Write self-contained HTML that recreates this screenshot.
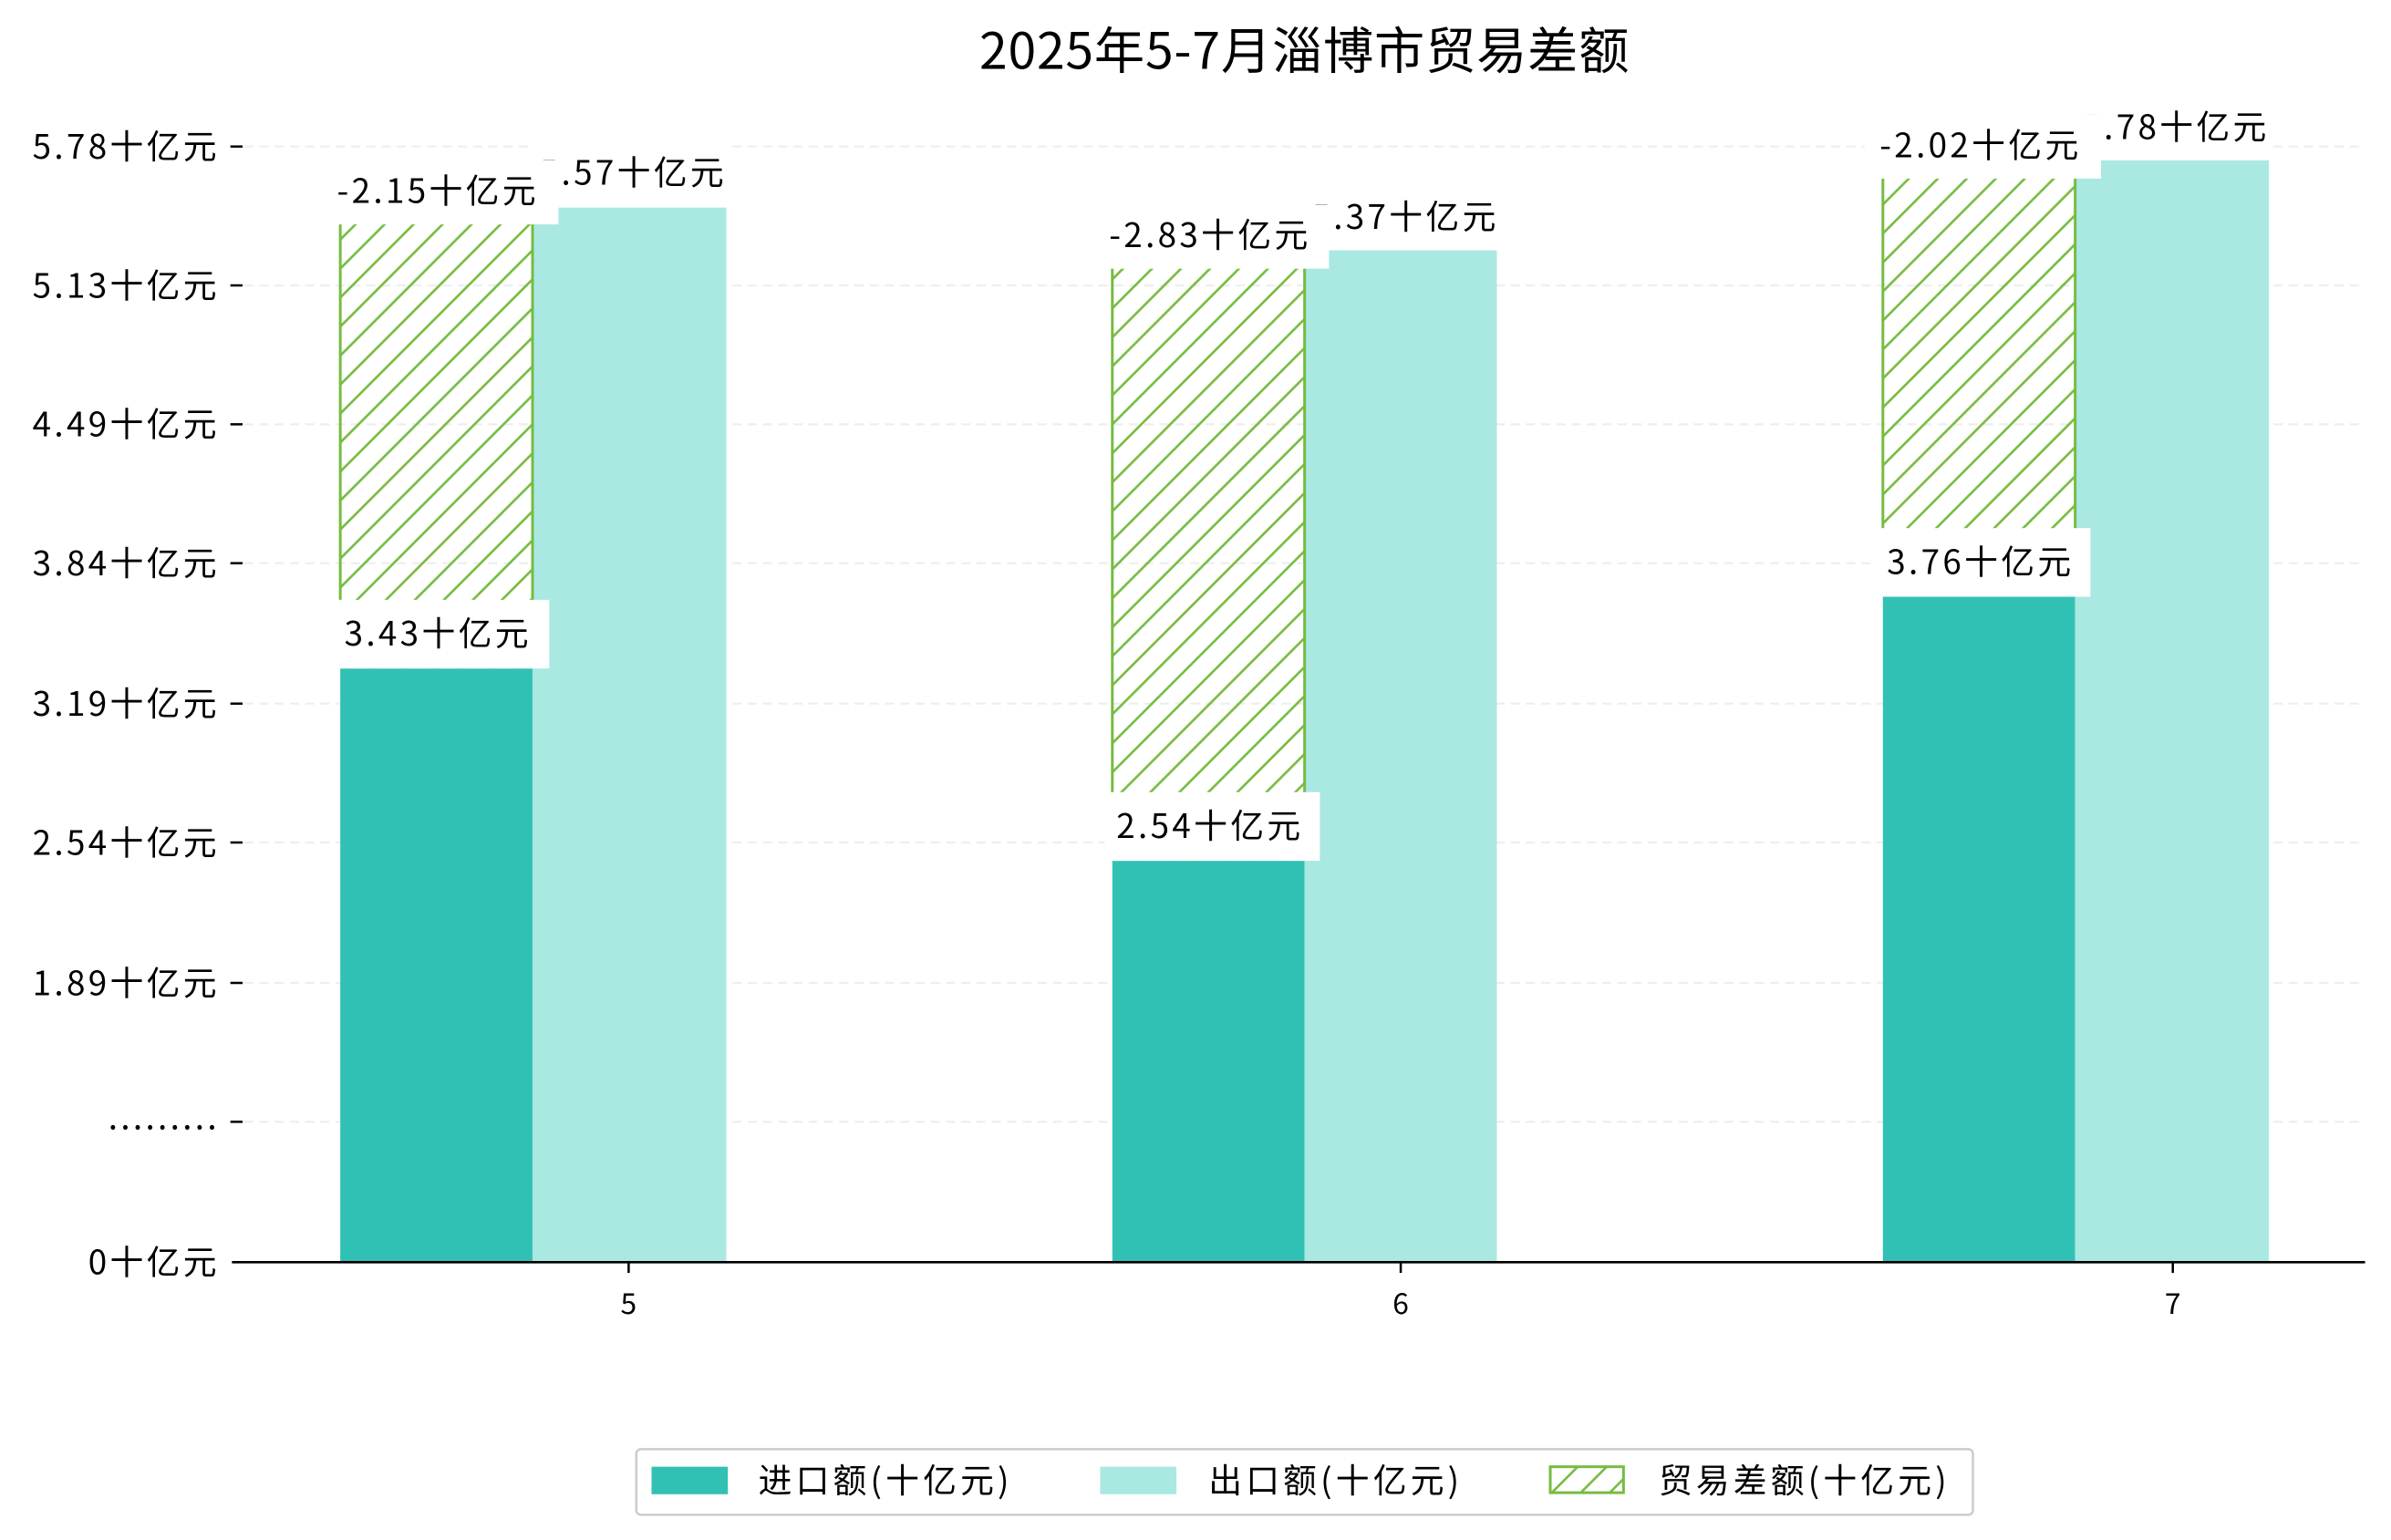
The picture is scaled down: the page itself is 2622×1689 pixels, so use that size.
<!DOCTYPE html>
<html><head><meta charset="utf-8"><style>
html,body{margin:0;padding:0;background:#fff}
svg{display:block}
text{font-family:"Noto Sans CJK SC","WenQuanYi Zen Hei",sans-serif;fill:#000}
</style></head><body>
<svg width="2622" height="1689" viewBox="0 0 1567 1009" preserveAspectRatio="none" xmlns="http://www.w3.org/2000/svg">
<defs>
<pattern id="h" patternUnits="userSpaceOnUse" width="19" height="19">
<path d="M-2,21 L21,-2 M-2,2 L2,-2 M17,21 L21,17" stroke="#77bc41" stroke-width="1.6"/>
</pattern>
</defs>
<rect width="1567" height="1009" fill="#fff"/>
<text x="855" y="45" font-size="33" letter-spacing="0.5" text-anchor="middle">2025年5-7月淄博市贸易差额</text>
<g stroke="#eeeeee" stroke-width="1.3" stroke-dasharray="6,4">
<line x1="160" x2="1550" y1="96" y2="96"/><line x1="160" x2="1550" y1="187" y2="187"/>
<line x1="160" x2="1550" y1="278" y2="278"/><line x1="160" x2="1550" y1="369" y2="369"/>
<line x1="160" x2="1550" y1="461" y2="461"/><line x1="160" x2="1550" y1="552" y2="552"/>
<line x1="160" x2="1550" y1="644" y2="644"/><line x1="160" x2="1550" y1="735" y2="735"/>
</g>
<g stroke="#000" stroke-width="1.5">
<line x1="151" x2="159" y1="96" y2="96"/><line x1="151" x2="159" y1="187" y2="187"/>
<line x1="151" x2="159" y1="278" y2="278"/><line x1="151" x2="159" y1="369" y2="369"/>
<line x1="151" x2="159" y1="461" y2="461"/><line x1="151" x2="159" y1="552" y2="552"/>
<line x1="151" x2="159" y1="644" y2="644"/><line x1="151" x2="159" y1="735" y2="735"/>
<line x1="412" x2="412" y1="827" y2="834"/><line x1="918" x2="918" y1="827" y2="834"/><line x1="1424" x2="1424" y1="827" y2="834"/>
</g>
<g font-size="22" letter-spacing="2" text-anchor="end">
<text x="144" y="104">5.78十亿元</text><text x="144" y="195">5.13十亿元</text>
<text x="144" y="286">4.49十亿元</text><text x="144" y="377">3.84十亿元</text>
<text x="144" y="469">3.19十亿元</text><text x="144" y="560">2.54十亿元</text>
<text x="144" y="652">1.89十亿元</text><text x="144" y="740">.........</text>
<text x="144" y="835">0十亿元</text>
</g>
<g font-size="19" text-anchor="middle">
<text x="412" y="861">5</text><text x="918" y="861">6</text><text x="1424" y="861">7</text>
</g>
<rect x="223" y="438" width="126" height="389" fill="#31c1b4"/>
<rect x="349" y="136" width="127" height="691" fill="#aae8e2"/>
<rect x="729" y="564" width="126" height="263" fill="#31c1b4"/>
<rect x="855" y="164" width="126" height="663" fill="#aae8e2"/>
<rect x="1234" y="391" width="126" height="436" fill="#31c1b4"/>
<rect x="1360" y="105" width="127" height="722" fill="#aae8e2"/>
<g fill="url(#h)">
<rect x="223" y="147" width="126" height="291"/>
<rect x="729" y="176" width="126" height="388"/>
<rect x="1234" y="117" width="126" height="274"/>
</g>
<g stroke="#77bc41" stroke-width="1.8">
<line x1="223" x2="223" y1="147" y2="438"/><line x1="349" x2="349" y1="147" y2="438"/>
<line x1="729" x2="729" y1="176" y2="564"/><line x1="855" x2="855" y1="176" y2="564"/>
<line x1="1234" x2="1234" y1="117" y2="391"/><line x1="1360" x2="1360" y1="117" y2="391"/>
</g>
<g font-size="22" letter-spacing="2" text-anchor="middle">
<rect x="348" y="95" width="130" height="40" fill="#fff"/><text x="415" y="121">5.57十亿元</text>
<rect x="854" y="124" width="130" height="40" fill="#fff"/><text x="921" y="150">5.37十亿元</text>
<rect x="1359" y="65" width="130" height="40" fill="#fff"/><text x="1426" y="91">5.78十亿元</text>
<rect x="218" y="393" width="142" height="45" fill="#fff"/><text x="287" y="423">3.43十亿元</text>
<rect x="724" y="519" width="141" height="45" fill="#fff"/><text x="793" y="549">2.54十亿元</text>
<rect x="1229" y="346" width="141" height="45" fill="#fff"/><text x="1298" y="376">3.76十亿元</text>
<rect x="210" y="105" width="156" height="42" fill="#fff"/><text x="287" y="133">-2.15十亿元</text>
<rect x="716" y="134" width="155" height="42" fill="#fff"/><text x="793" y="162">-2.83十亿元</text>
<rect x="1222" y="75" width="155" height="42" fill="#fff"/><text x="1298" y="103">-2.02十亿元</text>
</g>
<line x1="152" x2="1550" y1="827" y2="827" stroke="#000" stroke-width="1.6"/>
<rect x="417" y="949.5" width="876" height="43" rx="3" fill="#fff" stroke="#cccccc" stroke-width="1.5"/>
<rect x="427" y="961" width="50" height="18" fill="#31c1b4"/>
<text x="497" y="978" font-size="22" letter-spacing="2.5">进口额(十亿元)</text>
<rect x="721" y="961" width="50" height="18" fill="#aae8e2"/>
<text x="792" y="978" font-size="22" letter-spacing="2.5">出口额(十亿元)</text>
<rect x="1016" y="961" width="48" height="17" fill="url(#h)" stroke="#77bc41" stroke-width="1.8"/>
<text x="1087" y="978" font-size="22" letter-spacing="2.5">贸易差额(十亿元)</text>
</svg>
</body></html>
